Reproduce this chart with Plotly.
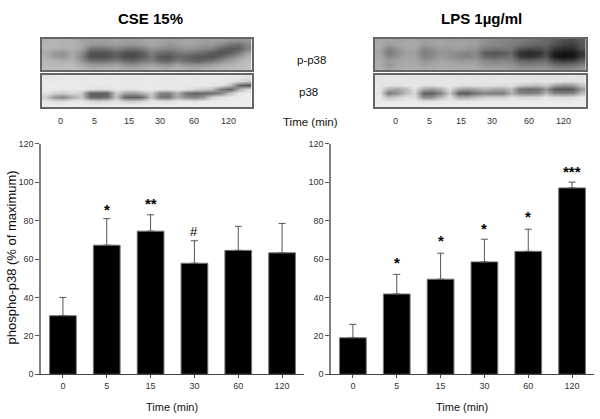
import plotly.graph_objects as go

W, H = 600, 419
FONT = "Liberation Sans"

time_labels = ["0", "5", "15", "30", "60", "120"]
cse_values = [30.5, 67.2, 74.5, 57.8, 64.5, 63.2]
cse_upper = [40, 81, 83, 69.5, 77, 78.5]
lps_values = [19, 41.8, 49.5, 58.5, 64, 97]
lps_upper = [26, 52, 63, 70.3, 75.5, 100]
y_ticks = [0, 20, 40, 60, 80, 100, 120]

cse_marks = [(1, 86, "*"), (2, 89, "**"), (3, 74.5, "#")]
lps_marks = [(1, 58, "*"), (2, 69.5, "*"), (3, 76, "*"), (4, 82, "*"), (5, 105.5, "***")]

cse_lane_x = [60, 94.5, 129, 160, 194, 228]
lps_lane_x = [395, 429, 461, 492, 529, 563]

# Blot densitometry (grey level per cell, top row first)
cse_phospho = [
    [178, 180, 176, 178, 165, 160, 158, 160, 165, 160, 160, 163, 168, 165, 160, 162, 168, 165, 160, 160, 158, 150, 145, 150],
    [182, 180, 178, 180, 170, 150, 148, 150, 155, 150, 150, 155, 165, 160, 150, 155, 165, 160, 150, 150, 135, 115, 110, 135],
    [180, 175, 172, 178, 165, 118, 112, 118, 130, 118, 112, 125, 148, 140, 135, 142, 150, 145, 135, 128, 100, 88, 95, 130],
    [172, 150, 145, 170, 145, 85, 80, 85, 100, 80, 76, 92, 130, 108, 102, 118, 125, 112, 105, 90, 82, 95, 120, 160],
    [175, 155, 152, 172, 138, 80, 76, 80, 95, 75, 74, 88, 118, 88, 85, 105, 100, 90, 85, 82, 105, 130, 152, 180],
    [182, 178, 175, 180, 150, 115, 110, 115, 125, 105, 100, 118, 130, 105, 98, 122, 108, 98, 102, 118, 140, 158, 175, 190],
    [185, 185, 185, 188, 170, 155, 150, 155, 160, 145, 140, 155, 160, 150, 145, 165, 150, 145, 150, 160, 170, 178, 185, 192],
    [190, 192, 190, 192, 185, 175, 175, 178, 180, 172, 170, 175, 180, 175, 172, 185, 175, 172, 178, 182, 185, 188, 190, 195],
]
cse_total = [
    [228, 230, 232, 232, 230, 232, 232, 230, 232, 230, 230, 232, 232, 232, 230, 232, 232, 230, 232, 232, 232, 232, 230, 228],
    [232, 232, 234, 234, 232, 232, 232, 232, 234, 232, 232, 232, 234, 232, 232, 232, 232, 232, 232, 232, 232, 230, 222, 205],
    [234, 234, 234, 234, 234, 232, 232, 232, 234, 232, 232, 234, 234, 232, 232, 232, 232, 232, 232, 230, 225, 195, 105, 85],
    [234, 234, 232, 234, 232, 225, 222, 225, 232, 228, 226, 232, 234, 232, 230, 232, 228, 215, 205, 190, 125, 95, 170, 215],
    [225, 205, 200, 215, 205, 95, 92, 95, 205, 160, 155, 175, 205, 130, 125, 175, 115, 100, 105, 110, 135, 195, 230, 234],
    [205, 145, 135, 170, 200, 105, 100, 110, 195, 100, 95, 105, 195, 120, 115, 175, 140, 130, 150, 210, 225, 234, 236, 236],
    [232, 222, 220, 228, 232, 215, 210, 218, 226, 205, 200, 212, 232, 225, 222, 232, 230, 228, 232, 236, 236, 236, 236, 236],
    [236, 236, 236, 236, 236, 236, 236, 236, 236, 236, 236, 236, 236, 236, 236, 236, 236, 236, 236, 236, 236, 236, 236, 236],
]
lps_phospho = [
    [168, 165, 162, 165, 168, 160, 162, 165, 160, 162, 160, 158, 145, 138, 135, 130, 125, 118, 110, 105, 95, 80, 75, 90],
    [170, 155, 165, 168, 170, 155, 160, 165, 162, 165, 160, 158, 140, 135, 132, 125, 115, 105, 100, 100, 80, 65, 60, 85],
    [168, 130, 150, 165, 165, 135, 145, 155, 155, 160, 150, 150, 125, 118, 118, 120, 85, 75, 75, 90, 55, 45, 45, 80],
    [165, 120, 140, 160, 160, 125, 135, 150, 145, 140, 130, 140, 90, 85, 88, 105, 50, 40, 45, 70, 30, 20, 22, 55],
    [168, 135, 150, 165, 165, 130, 140, 155, 145, 135, 130, 140, 105, 100, 110, 115, 60, 50, 60, 85, 25, 15, 20, 60],
    [172, 155, 165, 170, 168, 150, 155, 165, 160, 155, 155, 155, 135, 130, 135, 130, 105, 100, 105, 110, 70, 60, 65, 95],
    [172, 150, 165, 172, 170, 160, 165, 170, 168, 165, 165, 165, 150, 148, 150, 145, 130, 125, 130, 130, 110, 105, 110, 125],
    [175, 160, 172, 176, 172, 170, 172, 175, 172, 172, 172, 172, 165, 160, 162, 158, 150, 148, 150, 150, 140, 138, 140, 150],
]
lps_total = [
    [226, 228, 228, 228, 226, 228, 226, 228, 228, 226, 228, 226, 228, 226, 228, 226, 226, 228, 226, 226, 226, 226, 228, 226],
    [228, 230, 230, 230, 230, 230, 230, 230, 230, 230, 230, 230, 230, 230, 230, 230, 230, 228, 225, 228, 228, 225, 222, 225],
    [230, 228, 226, 230, 232, 226, 224, 228, 230, 226, 222, 226, 226, 225, 222, 226, 205, 195, 190, 205, 165, 150, 155, 195],
    [230, 175, 160, 185, 225, 165, 150, 175, 222, 165, 150, 165, 180, 165, 165, 190, 115, 105, 110, 150, 90, 85, 90, 155],
    [228, 120, 145, 185, 215, 95, 95, 130, 205, 95, 90, 115, 130, 125, 125, 175, 135, 130, 135, 180, 135, 130, 135, 190],
    [232, 190, 205, 225, 222, 140, 145, 185, 225, 170, 170, 190, 205, 205, 205, 225, 215, 215, 220, 230, 220, 218, 220, 232],
    [234, 232, 232, 234, 234, 225, 225, 232, 234, 232, 232, 232, 234, 234, 234, 234, 234, 234, 234, 234, 234, 234, 234, 236],
    [236, 236, 236, 236, 236, 236, 236, 236, 236, 236, 236, 236, 236, 236, 236, 236, 236, 236, 236, 236, 236, 236, 236, 236],
]


def dx(a, b):
    return [a / W, b / W]


def dy(top, bottom):
    return [1 - bottom / H, 1 - top / H]


fig = go.Figure()


def add_bars(xa, ya, values, upper):
    fig.add_trace(go.Bar(
        x=list(range(len(values))), y=values, width=0.61, xaxis=xa, yaxis=ya,
        marker=dict(color="#000000", line=dict(color="#777777", width=1)),
        error_y=dict(type="data", symmetric=False,
                     array=[u - v for u, v in zip(upper, values)],
                     arrayminus=[0] * len(values), color="#555555",
                     thickness=1, width=3.5),
        showlegend=False, hoverinfo="skip"))


def add_blot(xa, ya, z):
    fig.add_trace(go.Heatmap(
        z=z, xaxis=xa, yaxis=ya, zmin=0, zmax=255, zsmooth="best",
        colorscale=[[0, "#000000"], [1, "#ffffff"]], showscale=False, hoverinfo="skip"))


add_bars("x", "y", cse_values, cse_upper)
add_bars("x2", "y2", lps_values, lps_upper)
add_blot("x3", "y3", cse_phospho)
add_blot("x4", "y4", cse_total)
add_blot("x5", "y5", lps_phospho)
add_blot("x6", "y6", lps_total)

bar_x = dict(range=[-0.5, 5.5], tickvals=list(range(6)), ticktext=time_labels,
             ticks="outside", ticklen=3, tickwidth=1, tickcolor="#444444",
             showline=True, linecolor="#444444", linewidth=1, showgrid=False,
             zeroline=False, tickfont=dict(family=FONT, size=9, color="#333333"))
bar_y = dict(range=[0, 120], tickvals=y_ticks, ticks="outside", ticklen=4, tickwidth=1,
             tickcolor="#555555", showline=True, linecolor="#808080", linewidth=1.5,
             showgrid=False, zeroline=False,
             tickfont=dict(family=FONT, size=9, color="#333333"))
blot_x = dict(showticklabels=False, ticks="", showgrid=False, zeroline=False, mirror=True,
              showline=True, linecolor="#666666", linewidth=1.5)
blot_y = dict(showticklabels=False, ticks="", showgrid=False, zeroline=False, mirror=True,
              showline=True, linecolor="#666666", linewidth=1.5, autorange="reversed")

BASE, TOP = 374.3, 143.7
layout = dict(
    width=W, height=H, margin=dict(l=0, r=0, t=0, b=0, pad=0, autoexpand=False), autosize=False,
    paper_bgcolor="#ffffff", plot_bgcolor="#ffffff", showlegend=False, barmode="overlay",
    xaxis=dict(bar_x, domain=dx(41, 304), anchor="y"),
    yaxis=dict(bar_y, domain=dy(TOP, BASE), anchor="x"),
    xaxis2=dict(bar_x, domain=dx(331, 594), anchor="y2"),
    yaxis2=dict(bar_y, domain=dy(TOP, BASE), anchor="x2"),
    xaxis3=dict(blot_x, domain=dx(41.5, 251.5), anchor="y3"),
    yaxis3=dict(blot_y, domain=dy(38.5, 70), anchor="x3"),
    xaxis4=dict(blot_x, domain=dx(41.5, 251.5), anchor="y4"),
    yaxis4=dict(blot_y, domain=dy(75, 107), anchor="x4"),
    xaxis5=dict(blot_x, domain=dx(375, 585.5), anchor="y5"),
    yaxis5=dict(blot_y, domain=dy(38.5, 70), anchor="x5"),
    xaxis6=dict(blot_x, domain=dx(375, 585.5), anchor="y6"),
    yaxis6=dict(blot_y, domain=dy(75, 107), anchor="x6"),
)

ann = []


def text(px, py, s, size, bold=False, angle=0, color="#111111"):
    label = f"<b>{s}</b>" if bold else s
    ann.append(dict(x=px / W, y=1 - py / H, xref="paper", yref="paper", text=label,
                    showarrow=False, xanchor="center", yanchor="middle", textangle=angle,
                    font=dict(family=FONT, size=size, color=color)))


text(150.5, 18, "CSE 15%", 15, bold=True, color="#000000")
text(481, 18, "LPS 1µg/ml", 15, bold=True, color="#000000")
text(311.5, 59.5, "p-p38", 11.5)
text(308.5, 92.5, "p38", 11.5)
text(310.5, 122, "Time (min)", 11.5)
for xs in (cse_lane_x, lps_lane_x):
    for px, s in zip(xs, time_labels):
        text(px, 121, s, 9, color="#333333")
text(172, 407, "Time (min)", 11)
text(462, 407, "Time (min)", 11)
text(10.5, 258, "phospho-p38 (% of maximum)", 13, angle=-90)

for xa, ya, marks in (("x", "y", cse_marks), ("x2", "y2", lps_marks)):
    for i, v, s in marks:
        label = s if s == "#" else f"<b>{s}</b>"
        ann.append(dict(x=i, y=v, xref=xa, yref=ya, text=label, showarrow=False,
                        xanchor="center", yanchor="middle",
                        font=dict(family=FONT, size=15 if s != "#" else 13, color="#000000")))
layout["annotations"] = ann

fig.update_layout(**layout)
fig.write_html("out.html", config={"displayModeBar": False},
               post_script="document.body.style.margin='0';")
